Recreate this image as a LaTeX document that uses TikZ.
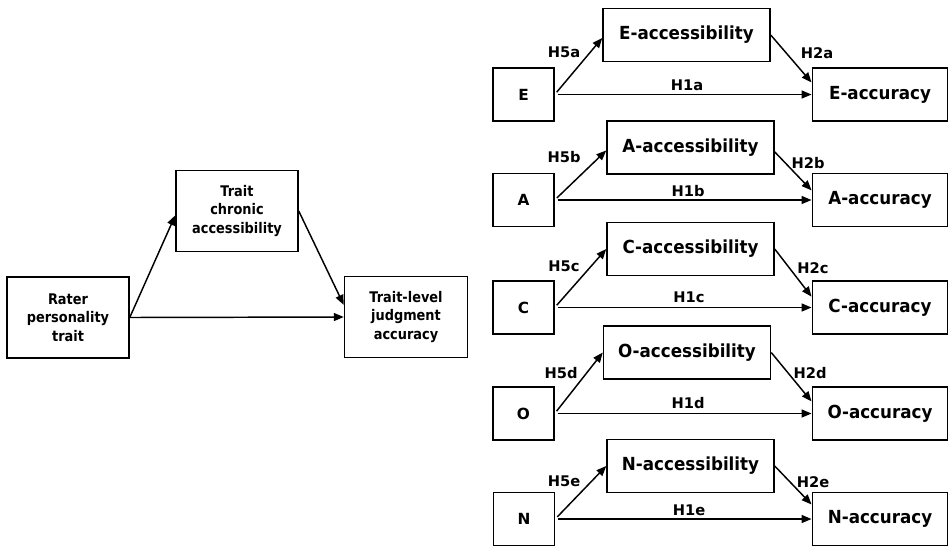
\documentclass[tikz,border=0pt]{standalone}
\usepackage{fontspec}
\setmainfont{DejaVu Sans}
\newfontfamily\condfont{DejaVu Sans}[FakeStretch=0.88]
\newfontfamily\medfont{DejaVu Sans}[FakeStretch=0.93]
\usetikzlibrary{arrows.meta}
\begin{document}
\begin{tikzpicture}[x=0.75pt,y=-0.75pt,
  box/.style={draw,line width=1.1pt,inner sep=0pt,align=center},
  bigbox/.style={box,minimum width=91.5pt,minimum height=60.5pt,
    font={\condfont\bfseries\fontsize{11}{14}\selectfont}},
  letterbox/.style={box,minimum width=45.75pt,minimum height=39.75pt,
    font={\bfseries\fontsize{11.5}{14}\selectfont}},
  accbox/.style={box,minimum width=125.25pt,minimum height=39.75pt,
    font={\medfont\bfseries\fontsize{13.5}{16}\selectfont}},
  outbox/.style={box,minimum width=101.6pt,minimum height=39.75pt,
    font={\medfont\bfseries\fontsize{13.5}{16}\selectfont}},
  hlab/.style={inner sep=0pt,font={\bfseries\fontsize{11}{13}\selectfont}},
  arr/.style={line width=1.1pt,-{Triangle[length=7.5pt,width=6pt]}},
  src/.style={arr,shorten <=2.25pt}
]
\useasboundingbox (0,0) rectangle (952,547);

% ---- left model ----
\node[bigbox] (rater) at (68,317.5) {Rater\\personality\\trait};
\node[bigbox] (chronic) at (237,211) {Trait\\chronic\\accessibility};
\node[bigbox,minimum width=92.25pt] (tlevel) at (406,317) {Trait-level\\judgment\\accuracy};
\draw[arr] (rater.east) -- (chronic.184);
\draw[arr] (chronic.east) -- (tlevel.169);
\draw[arr] (rater.east) -- (tlevel.west);

% ---- E ----
\node[letterbox] (E) at (523.5,94.5) {E};
\node[accbox] (Eacc) at (686.5,35) {E-accessibility};
\node[outbox] (Eout) at (880,94.5) {E-accuracy};
\draw[src] (E.east) -- (Eacc.182);
\draw[arr] (Eacc.east) -- (Eout.170);
\draw[src] (E.east) -- (Eout.west);
\node[hlab] (h5a) at (564,52) {H5a};
\node[hlab] (h2a) at (817,53) {H2a};
\node[hlab] (h1a) at (687,85) {H1a};

% ---- A ----
\node[letterbox] (A) at (523.5,200) {A};
\node[accbox] (Aacc) at (690.5,147.5) {A-accessibility};
\node[outbox] (Aout) at (880,200) {A-accuracy};
\draw[src] (A.east) -- (Aacc.182);
\draw[arr] (Aacc.-3) -- (Aout.172);
\draw[src] (A.east) -- (Aout.west);
\node[hlab] (h5b) at (564,157) {H5b};
\node[hlab] (h2b) at (808,163) {H2b};
\node[hlab] (h1b) at (688,191) {H1b};

% ---- C ----
\node[letterbox] (C) at (523.5,307.5) {C};
\node[accbox] (Cacc) at (690.5,249) {C-accessibility};
\node[outbox] (Cout) at (880,307.5) {C-accuracy};
\draw[src] (C.east) -- (Cacc.west);
\draw[arr] (Cacc.east) -- (Cout.171);
\draw[src] (C.east) -- (Cout.west);
\node[hlab] (h5c) at (564,266) {H5c};
\node[hlab] (h2c) at (813,268) {H2c};
\node[hlab] (h1c) at (689,297) {H1c};

% ---- O ----
\node[letterbox] (O) at (523.5,413.5) {O};
\node[accbox] (Oacc) at (687,352.5) {O-accessibility};
\node[outbox] (Oout) at (880,413.5) {O-accuracy};
\draw[src] (O.east) -- (Oacc.west);
\draw[arr] (Oacc.east) -- (Oout.170);
\draw[src] (O.east) -- (Oout.west);
\node[hlab] (h5d) at (561,373) {H5d};
\node[hlab] (h2d) at (810,373) {H2d};
\node[hlab] (h1d) at (688,403) {H1d};

% ---- N ----
\node[letterbox] (N) at (524,519) {N};
\node[accbox] (Nacc) at (690.5,466) {N-accessibility};
\node[outbox] (Nout) at (880,519) {N-accuracy};
\draw[src] (N.east) -- (Nacc.west);
\draw[arr] (Nacc.east) -- (Nout.168);
\draw[src] (N.east) -- (Nout.west);
\node[hlab] (h5e) at (564,481) {H5e};
\node[hlab] (h2e) at (813,482) {H2e};
\node[hlab] (h1e) at (689,510) {H1e};
\end{tikzpicture}
\end{document}
